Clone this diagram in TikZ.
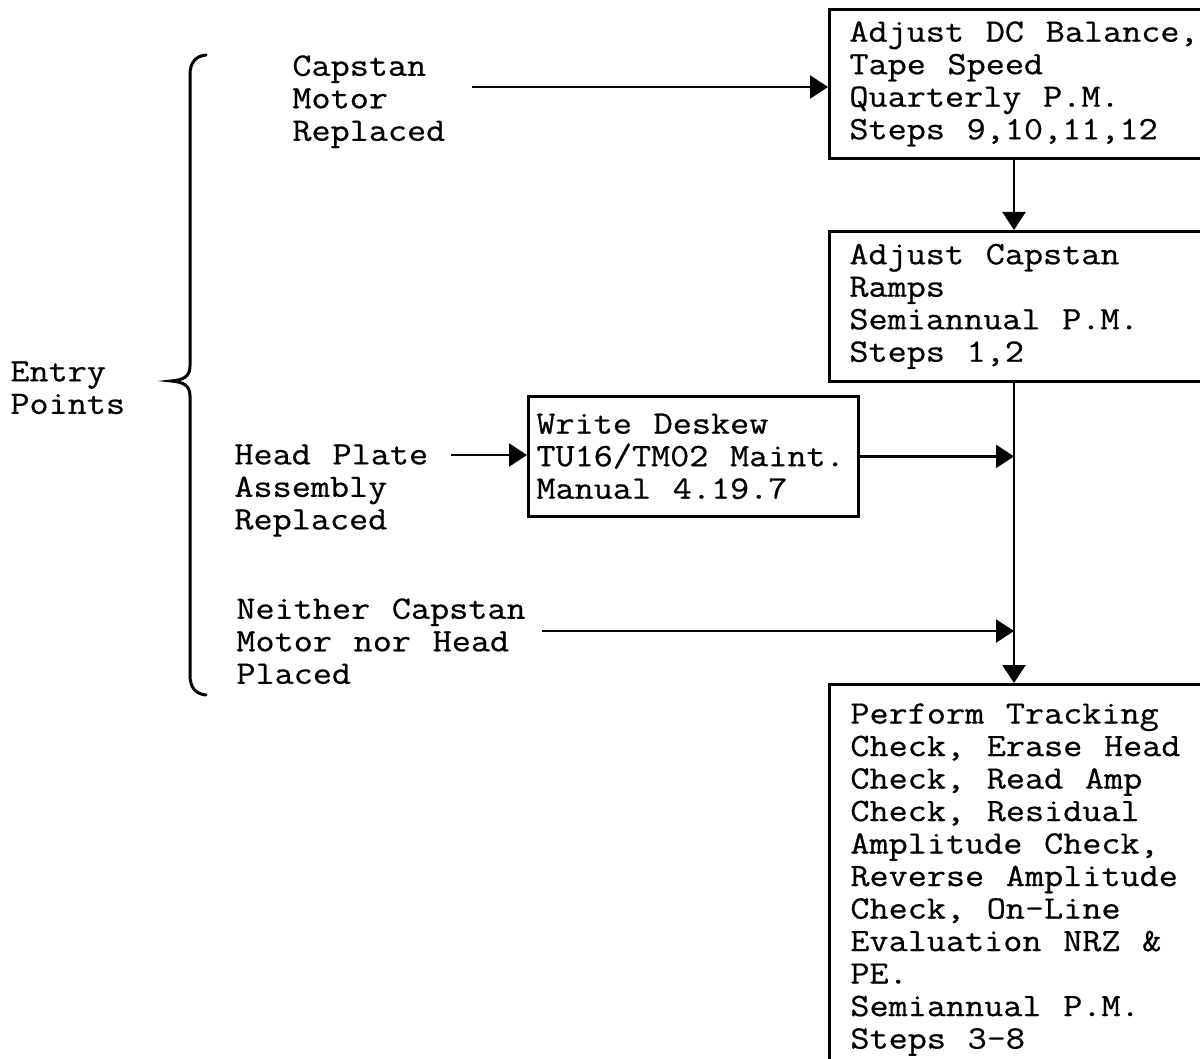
\documentclass[tikz,border=0pt]{standalone}
\usepackage{fontspec}
\setmonofont[FakeStretch=1.135, WordSpace=1.135, FakeBold=0.6]{Latin Modern Mono}
\usetikzlibrary{arrows.meta, positioning}

\begin{document}
\begin{tikzpicture}[
  x=0.5pt, y=-0.5pt,
  every node/.style={font=\ttfamily\fontsize{16.35pt}{16.25pt}\selectfont},
  box/.style={draw, line width=1.4pt, anchor=north west, align=flush left,
              inner xsep=10pt, text width=200pt},
  lbl/.style={anchor=north west, align=left, inner sep=0pt},
  arr/.style={-{Triangle[length=9pt, width=11.5pt]}, line width=1.2pt},
]
\useasboundingbox (0,0) rectangle (1200,1059);
\clip (0,0) rectangle (1200,1059);

% entry points
\node[lbl] (entry)   at (10,361)  {Entry\\Points};
\node[lbl] (capstan) at (292,55)  {Capstan\\Motor\\Replaced};
\node[lbl] (head)    at (234,444) {Head Plate\\Assembly\\Replaced};
\node[lbl] (neither) at (236,598) {Neither Capstan\\Motor nor Head\\Placed};

\draw[line width=1.5pt, line cap=round]
  (206,55) .. controls (196,56) and (190,62) .. (190,75) -- (190,366)
  .. controls (190,377) and (183,380) .. (171,381)
  .. controls (183,382) and (190,385) .. (190,396) -- (190,675)
  .. controls (190,688) and (196,694) .. (206,695);

% procedure boxes
\node[box, minimum height=74.5pt] (dcbal) at (828,8)
  {Adjust DC Balance,\\Tape Speed\\Quarterly P.M.\\Steps 9,10,11,12};
\node[box, minimum height=75pt] (ramps) at (828,230)
  {Adjust Capstan\\Ramps\\Semiannual P.M.\\Steps 1,2};
\node[box, inner xsep=4pt, text width=157pt, minimum height=60pt] (deskew) at (527,395)
  {Write Deskew\\TU16/TM02 Maint.\\Manual 4.19.7};
\node[box, inner xsep=10.5pt, inner ysep=9.5pt] (track) at (828,683)
  {Perform Tracking\\Check, Erase Head\\Check, Read Amp\\Check, Residual\\
   Amplitude Check,\\Reverse Amplitude\\Check, On-Line\\Evaluation NRZ \&\\
   PE.\\Semiannual P.M.\\Steps 3-8\rule[-60pt]{0pt}{0pt}};

\coordinate (spine)    at (1014,0);
\coordinate (capout)   at (472,87);
\coordinate (headout)  at (451,455);
\coordinate (neithout) at (542,631);

\draw[arr] (capout)   -- (capout -| dcbal.west);
\draw[arr] (headout)  -- (headout -| deskew.west);
\draw[arr] (deskew.east) -- (deskew.east -| spine);
\draw[arr] (neithout) -- (neithout -| spine);
\draw[arr] (dcbal.south -| spine) -- (ramps.north -| spine);
\draw[arr] (ramps.south -| spine) -- (track.north -| spine);
\end{tikzpicture}
\end{document}
